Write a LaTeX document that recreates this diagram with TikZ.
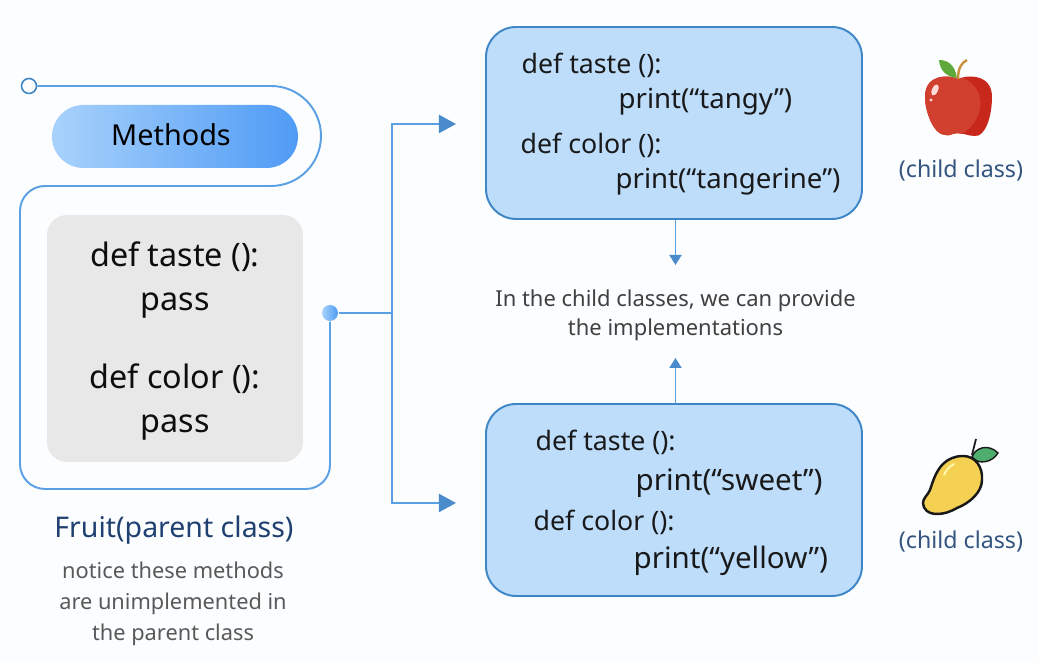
\documentclass[tikz,border=0pt]{standalone}
\usepackage{fontspec}
\setmainfont{Noto Sans}
\usetikzlibrary{positioning, arrows.meta}
\definecolor{pagebg}{HTML}{FBFDFF}
\definecolor{linkblue}{HTML}{5BA0E4}
\definecolor{tipblue}{HTML}{4A8CCB}
\definecolor{boxblue}{HTML}{BDDDFB}
\definecolor{boxedge}{HTML}{3F86C6}
\definecolor{padgray}{HTML}{E8E8E8}
\definecolor{pillleft}{HTML}{A8D2FB}
\definecolor{pillright}{HTML}{4F9BF5}
\definecolor{navytext}{HTML}{1F4070}
\definecolor{childtext}{HTML}{34557F}
\definecolor{appledark}{HTML}{C8281B}
\definecolor{applelight}{HTML}{D13F2E}
\definecolor{appleleaf}{HTML}{5FA83A}
\definecolor{applestem}{HTML}{C8913F}
\definecolor{mangobody}{HTML}{F5D153}
\definecolor{mangoleaf}{HTML}{4FAE6E}
\tikzset{
    link/.style={draw=linkblue, line width=0.55pt},
    bigtip/.style={-{Triangle[length=0.17cm, width=0.18cm, fill=tipblue, color=tipblue]}},
    smalltip/.style={-{Triangle[length=0.10cm, width=0.12cm, fill=tipblue, color=tipblue]}},
    childbox/.style={draw=boxedge, fill=boxblue, line width=0.55pt, rounded corners=0.3cm, minimum width=3.76cm, minimum height=1.92cm, inner sep=0pt},
    boxcode/.style={anchor=west, inner sep=0pt, text=black!90, font=\fontsize{7.6}{9}\selectfont},
    printcode/.style={boxcode, font=\fontsize{7.85}{9}\selectfont},
    printcodeb/.style={boxcode, font=\fontsize{8.4}{10}\selectfont},
    padcode/.style={inner sep=0pt, text=black!95, font=\fontsize{9.2}{11}\selectfont},
    note/.style={inner sep=0pt, text=black!65, font=\fontsize{6.2}{8}\selectfont},
    midnote/.style={inner sep=0pt, text=black!75, font=\fontsize{6.25}{8}\selectfont},
    childlabel/.style={inner sep=0pt, text=childtext, font=\fontsize{6.6}{8}\selectfont}
}
\begin{document}
\begin{tikzpicture}
    \path [use as bounding box, fill=pagebg] (0, 0) rectangle (10.38, 6.62);

    \node (methods) at (1.75, 5.255) [rounded corners=0.315cm, left color=pillleft, right color=pillright, minimum width=2.46cm, minimum height=0.63cm, inner sep=0pt] {};
    \node at (1.71, 5.27) [inner sep=0pt, font=\fontsize{8.2}{10}\selectfont] {Methods};
    \node (pad) at (1.75, 3.235) [fill=padgray, rounded corners=0.2cm, minimum width=2.56cm, minimum height=2.47cm, inner sep=0pt] {};
    \node (start) at (0.29, 5.76) [circle, draw=boxedge, fill=pagebg, line width=0.45pt, minimum size=0.15cm, inner sep=0pt] {};
    \node (joint) at (3.30, 3.49) [circle, left color=pillleft, right color=pillright, minimum size=0.16cm, inner sep=0pt] {};

    \node at (1.75, 4.05) [padcode] {def taste ():};
    \node at (1.75, 3.56) [padcode] {pass};
    \node at (1.75, 2.83) [padcode] {def color ():};
    \node at (1.75, 2.34) [padcode] {pass};

    \node (topbox) at (6.74, 5.39) [childbox] {};
    \node (lowbox) at (6.74, 1.62) [childbox] {};

    \node at (5.21, 5.97) [boxcode] {def taste ():};
    \node at (6.18, 5.60) [printcode] {print(“tangy”)};
    \node at (5.20, 5.17) [boxcode] {def color ():};
    \node at (6.15, 4.80) [printcode] {print(“tangerine”)};

    \node at (5.35, 2.20) [boxcode] {def taste ():};
    \node at (6.35, 1.79) [printcodeb] {print(“sweet”)};
    \node at (5.33, 1.40) [boxcode] {def color ():};
    \node at (6.33, 1.01) [printcodeb] {print(“yellow”)};

    \node (impline) at (6.755, 3.61) [midnote] {In the child classes, we can provide};
    \node (implineb) at (6.755, 3.32) [midnote] {the implementations};

    \node (fruit) at (1.74, 1.32) [inner sep=0pt, text=navytext, font=\fontsize{8.1}{10}\selectfont] {Fruit(parent class)};
    \node at (1.73, 0.92) [note] {notice these methods};
    \node at (1.73, 0.58) [note] {are unimplemented in};
    \node at (1.73, 0.27) [note] {the parent class};

    \node (applelabel) at (9.61, 4.91) [childlabel] {(child class)};
    \node (mangolabel) at (9.61, 1.20) [childlabel] {(child class)};

    \coordinate (branch) at (3.92, 3.49);
    \coordinate (topend) at (4.56, 5.38);
    \coordinate (lowend) at (4.56, 1.59);
    \coordinate (downend) at (6.755, 3.97);
    \coordinate (upend) at (6.755, 3.04);

    \draw [link] (start.east) -- (2.71, 5.76) arc (90:-90:0.5) -- (0.45, 4.76) arc (90:180:0.25) -- (0.20, 1.98) arc (180:270:0.25) -- (3.06, 1.73) arc (270:360:0.24) -- (joint);
    \draw [link] (joint) -- (branch);
    \draw [link, bigtip] (branch) |- (topend);
    \draw [link, bigtip] (branch) |- (lowend);
    \draw [link, smalltip] (topbox.south -| downend) -- (downend);
    \draw [link, smalltip] (lowbox.north -| upend) -- (upend);

    % apple
    \begin{scope}[shift={(9.58, 5.65)}]
        \fill [appledark] (0, 0.18) .. controls (0.08, 0.22) and (0.34, 0.24) .. (0.34, 0) .. controls (0.34, -0.2) and (0.27, -0.40) .. (0.17, -0.39) .. controls (0.1, -0.39) and (0.05, -0.36) .. (0, -0.36) .. controls (-0.05, -0.36) and (-0.08, -0.39) .. (-0.13, -0.38) .. controls (-0.24, -0.38) and (-0.33, -0.15) .. (-0.33, 0) .. controls (-0.33, 0.24) and (-0.08, 0.22) .. (0, 0.18);
        \fill [applelight] (0.05, 0.19) .. controls (0.27, 0.1) and (0.3, -0.2) .. (0.04, -0.37) .. controls (0.01, -0.36) and (-0.02, -0.36) .. (-0.05, -0.37) .. controls (-0.08, -0.39) and (-0.1, -0.385) .. (-0.13, -0.38) .. controls (-0.24, -0.38) and (-0.33, -0.15) .. (-0.33, 0) .. controls (-0.33, 0.24) and (-0.08, 0.22) .. (0, 0.18) -- cycle;
        \fill [white!85!red, rotate around={-25:(-0.23, 0.07)}] (-0.23, 0.07) ellipse (0.03 and 0.06);
        \fill [white!85!red] (-0.27, -0.03) circle (0.017);
        \fill [appleleaf] (-0.01, 0.19) .. controls (-0.1, 0.2) and (-0.18, 0.25) .. (-0.19, 0.37) .. controls (-0.1, 0.37) and (-0.03, 0.32) .. (-0.01, 0.19);
        \draw [applestem, line width=0.7pt] (0, 0.18) .. controls (0, 0.28) and (0.03, 0.34) .. (0.09, 0.37);
    \end{scope}

    % mango
    \begin{scope}[shift={(9.58, 1.84)}]
        \draw [black!90, line width=0.5pt] (0.14, 0.23) -- (0.18, 0.39);
        \draw [black!90, fill=mangoleaf, line width=0.4pt] (0.14, 0.21) .. controls (0.17, 0.3) and (0.3, 0.35) .. (0.40, 0.25) .. controls (0.34, 0.15) and (0.2, 0.13) .. (0.14, 0.21);
        \draw [black!90, fill=mangobody, line width=0.7pt] (0.05, 0.22) .. controls (0.18, 0.22) and (0.25, 0.1) .. (0.24, -0.02) .. controls (0.24, -0.14) and (0.12, -0.25) .. (-0.01, -0.30) .. controls (-0.08, -0.34) and (-0.14, -0.36) .. (-0.21, -0.36) .. controls (-0.3, -0.36) and (-0.35, -0.31) .. (-0.35, -0.25) .. controls (-0.35, -0.2) and (-0.3, -0.17) .. (-0.28, -0.12) .. controls (-0.25, -0.03) and (-0.22, 0.07) .. (-0.15, 0.14) .. controls (-0.1, 0.19) and (-0.03, 0.22) .. (0.05, 0.22);
        \draw [white!70!yellow, line width=0.5pt, line cap=round] (-0.14, 0.03) .. controls (-0.12, 0.08) and (-0.08, 0.12) .. (-0.04, 0.14);
    \end{scope}
\end{tikzpicture}
\end{document}
